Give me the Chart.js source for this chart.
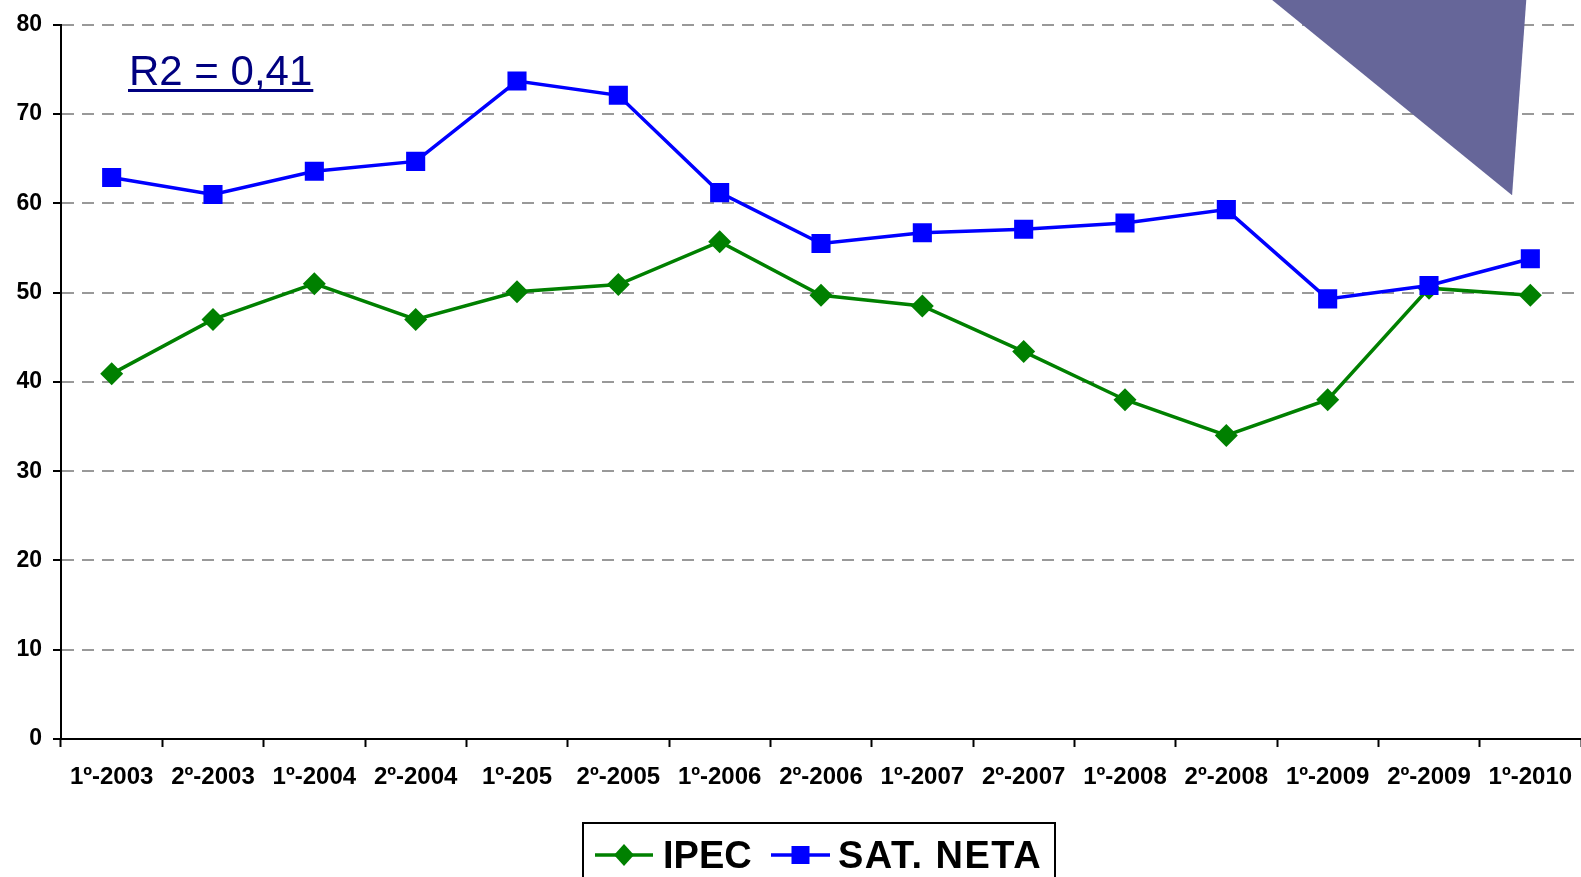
<!DOCTYPE html>
<html>
<head>
<meta charset="utf-8">
<script src="https://cdn.jsdelivr.net/npm/chart.js@4"></script>
<style>
html,body{margin:0;padding:0;background:#fff;}
#wrap{width:1581px;height:877px;position:relative;}
</style>
</head>
<body>
<div id="wrap"><canvas id="c" width="1581" height="877"></canvas></div>
<script>
const categories = ['1º-2003','2º-2003','1º-2004','2º-2004','1º-205','2º-2005','1º-2006','2º-2006','1º-2007','2º-2007','1º-2008','2º-2008','1º-2009','2º-2009','1º-2010'];
const ipecValues = [40.9, 47.0, 51.0, 47.0, 50.1, 50.9, 55.7, 49.7, 48.5, 43.4, 38.0, 34.0, 38.0, 50.5, 49.7];
const satNetaValues = [62.9, 61.0, 63.6, 64.7, 73.7, 72.1, 61.2, 55.5, 56.7, 57.1, 57.8, 59.3, 49.3, 50.8, 53.8];
const yTicks = [0, 10, 20, 30, 40, 50, 60, 70, 80];
const seriesNames = ['IPEC', 'SAT. NETA'];
const annotationText = 'R2 = 0,41';
// decorative callout triangle, in (category index, value) space
const calloutTriangle = [[11.45, 82.8], [13.96, 82.8], [13.82, 60.9]];

const FONT = "'Liberation Sans', Arial, Helvetica, sans-serif";

const decorPlugin = {
  id: 'decor',
  beforeDatasetsDraw(chart) {
    const ctx = chart.ctx, xs = chart.scales.x, ys = chart.scales.y;
    ctx.save();
    ctx.fillStyle = '#666699';
    ctx.beginPath();
    calloutTriangle.forEach((p, i) => {
      const px = xs.getPixelForValue(p[0]), py = ys.getPixelForValue(p[1]);
      if (i === 0) ctx.moveTo(px, py); else ctx.lineTo(px, py);
    });
    ctx.closePath();
    ctx.fill();
    ctx.restore();
  },
  afterDraw(chart) {
    const ctx = chart.ctx;
    ctx.save();
    // R2 annotation
    ctx.font = '42px ' + FONT;
    ctx.fillStyle = '#000080';
    ctx.textBaseline = 'alphabetic';
    ctx.textAlign = 'left';
    const tx = 129, ty = 85;
    ctx.fillText(annotationText, tx, ty);
    const w = ctx.measureText(annotationText).width;
    ctx.fillRect(tx - 1, ty + 4, w + 2, 3);

    // Legend
    const ds = chart.data.datasets;
    ctx.strokeStyle = '#000';
    ctx.lineWidth = 2;
    ctx.strokeRect(583, 823, 472, 70);
    ctx.font = 'bold 38px ' + FONT;
    ctx.textBaseline = 'alphabetic';
    const ly = 855;
    const items = [
      {ds: ds[0], x0: 595, x1: 653, tx: 663, ls: '0px'},
      {ds: ds[1], x0: 771, x1: 830, tx: 838, ls: '1.5px'}
    ];
    items.forEach(it => {
      ctx.strokeStyle = it.ds.borderColor;
      ctx.lineWidth = 3.5;
      ctx.beginPath(); ctx.moveTo(it.x0, ly); ctx.lineTo(it.x1, ly); ctx.stroke();
      ctx.fillStyle = it.ds.borderColor;
      const cx = (it.x0 + it.x1) / 2;
      if (it.ds.pointStyle === 'rectRot') {
        ctx.beginPath();
        ctx.moveTo(cx, ly - 11); ctx.lineTo(cx + 10, ly); ctx.lineTo(cx, ly + 11); ctx.lineTo(cx - 10, ly);
        ctx.closePath(); ctx.fill();
      } else {
        ctx.fillRect(cx - 9, ly - 9, 18, 18);
      }
      ctx.fillStyle = '#000';
      ctx.letterSpacing = it.ls;
      ctx.fillText(it.ds.label, it.tx, 868);
      ctx.letterSpacing = '0px';
    });
    ctx.restore();
  }
};

new Chart(document.getElementById('c'), {
  type: 'line',
  data: {
    labels: categories,
    datasets: [
      {
        label: seriesNames[0], data: ipecValues,
        borderColor: '#008000', backgroundColor: '#008000',
        borderWidth: 3.5, pointStyle: 'rectRot', pointRadius: 11.5,
        pointBorderWidth: 0, tension: 0, order: 2
      },
      {
        label: seriesNames[1], data: satNetaValues,
        borderColor: '#0000FF', backgroundColor: '#0000FF',
        borderWidth: 3.5, pointStyle: 'rect', pointRadius: 13.5,
        pointBorderWidth: 0, tension: 0, order: 1
      }
    ]
  },
  options: {
    responsive: false,
    animation: false,
    devicePixelRatio: 1,
    layout: {autoPadding: false, padding: {top: 24, left: 0, right: 0, bottom: 0}},
    plugins: {legend: {display: false}, tooltip: {enabled: false}},
    scales: {
      x: {
        offset: true,
        grid: {display: true, offset: true, drawOnChartArea: false, drawTicks: true, tickLength: 8, tickColor: '#000', tickWidth: 2},
        border: {display: true, color: '#000', width: 2},
        ticks: {color: '#000', font: {family: FONT, size: 24, weight: 'bold'}, padding: 16, maxRotation: 0, autoSkip: false},
        afterFit: s => { s.height = 138; s.paddingLeft = 0; s.paddingRight = 0; }
      },
      y: {
        min: 0, max: 80,
        afterBuildTicks: s => { s.ticks = yTicks.map(v => ({value: v})); },
        grid: {
          color: c => (c.tick && c.tick.value === 0) ? 'rgba(0,0,0,0)' : '#999999',
          lineWidth: 2, drawTicks: true, tickLength: 8, tickColor: '#000', tickWidth: 2
        },
        border: {display: true, color: '#000', width: 2, dash: [12, 8]},
        ticks: {color: '#000', font: {family: FONT, size: 23, weight: 'bold'}, padding: 11},
        afterFit: s => { s.width = 61; }
      }
    }
  },
  plugins: [decorPlugin]
});
</script>
</body>
</html>
